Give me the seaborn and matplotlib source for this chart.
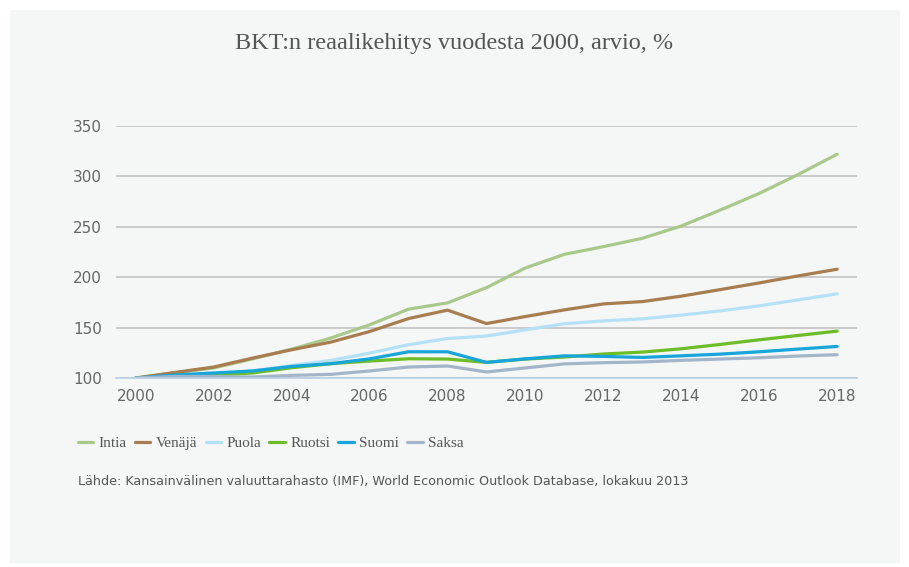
import pandas as pd
import numpy as np
import seaborn as sns
import matplotlib.pyplot as plt
from matplotlib.patches import Rectangle
from matplotlib.ticker import MultipleLocator

years = list(range(2000, 2019))

intia = [100, 105, 110, 119, 128.7, 139.6, 152.8, 168.3, 174.5, 189.7,
         209.2, 222.7, 230.3, 238.6, 250.8, 266.6, 283.1, 301.9, 322]
venaja = [100, 105.5, 110.9, 119.8, 128, 135.6, 146.1, 159, 167.3, 154,
          161, 167.6, 173.5, 175.8, 181.2, 187.7, 194.3, 201.3, 207.9]
puola = [100, 101.5, 103, 107, 112.5, 117.4, 124.7, 133, 139.2, 141.6,
         147.8, 153.8, 156.7, 158.7, 162.4, 166.6, 171.6, 177.5, 183.5]
ruotsi = [100, 101, 103, 105, 110.2, 114.2, 116.8, 119.1, 118.8, 115.5,
          118.8, 120.8, 123.8, 125.7, 129, 133.3, 137.9, 142.2, 146.5]
suomi = [100, 103, 105, 107, 111.5, 114.2, 119, 126, 126, 115.5,
         119, 122, 121.4, 120.4, 122, 123.7, 126, 128.7, 131.3]
saksa = [100, 101.5, 101.5, 101, 102.6, 103.6, 107, 110.9, 111.9, 106,
         110, 114, 115.2, 115.9, 117.5, 118.8, 120.1, 121.8, 123.1]

countries = ["Intia", "Venäjä", "Puola", "Ruotsi", "Suomi", "Saksa"]
colors = ["#a9c98a", "#a87d4f", "#b5e1f7", "#6cbd28", "#17a5da", "#a3b6c9"]

title = "BKT:n reaalikehitys vuodesta 2000, arvio, %"
source = ("Lähde: Kansainvälinen valuuttarahasto (IMF), World Economic "
          "Outlook Database, lokakuu 2013")

df = pd.DataFrame({"vuosi": years, "Intia": intia, "Venäjä": venaja,
                   "Puola": puola, "Ruotsi": ruotsi, "Suomi": suomi,
                   "Saksa": saksa})
df = df.melt(id_vars="vuosi", var_name="maa", value_name="arvo")

sns.set_style("white")
plt.rcParams["font.family"] = ["DejaVu Sans"]

W, H = 909, 567
fig = plt.figure(figsize=(W / 100, H / 100), dpi=100)
fig.patch.set_facecolor("white")
fig.add_artist(Rectangle((10 / W, 4 / H), 890 / W, 553 / H,
                         transform=fig.transFigure, facecolor="#f5f6f6",
                         edgecolor="none", zorder=-10))

ax = fig.add_axes([116 / W, 1 - 378 / H, (857 - 116) / W, (378 - 126) / H])
ax.set_facecolor("none")

sns.lineplot(data=df, x="vuosi", y="arvo", hue="maa", hue_order=countries,
             palette=dict(zip(countries, colors)), linewidth=2.3, ax=ax,
             legend=False)

ax.set_xlim(1999.49, 2018.51)
ax.set_ylim(100, 350)
ax.set_yticks([100, 150, 200, 250, 300, 350])
ax.xaxis.set_major_locator(MultipleLocator(2))
ax.xaxis.set_minor_locator(MultipleLocator(1))
ax.grid(axis="y", color="#c4c4c4", linewidth=1.2)
ax.set_axisbelow(True)
for s in ["top", "right", "left"]:
    ax.spines[s].set_visible(False)
ax.spines["bottom"].set_color("#b9d0e4")
ax.spines["bottom"].set_linewidth(1.2)
ax.tick_params(axis="y", length=0, pad=10, labelsize=11, labelcolor="#666666")
ax.tick_params(axis="x", which="both", direction="out", length=5,
               color="#b9d0e4", width=1, labelsize=11, labelcolor="#666666",
               pad=3)
ax.set_xlabel("")
ax.set_ylabel("")

fig.text(0.5, 1 - 44 / H, title, ha="center", va="center",
         family="Liberation Serif", fontsize=17.5, color="#555555")

handles = [plt.Line2D([], [], color=c, linewidth=2.3) for c in colors]
fig.legend(handles, countries, loc="center left",
           bbox_to_anchor=(78 / W, 1 - 443 / H), ncol=6, frameon=False,
           borderpad=0, borderaxespad=0,
           handlelength=1.0, handletextpad=0.35, columnspacing=0.55,
           prop={"family": "Liberation Serif", "size": 11},
           labelcolor="#555555")

fig.text(78 / W, 1 - 482 / H, source, ha="left", va="center",
         fontsize=9.2, color="#555555")

fig.savefig("out.png", dpi=100)
